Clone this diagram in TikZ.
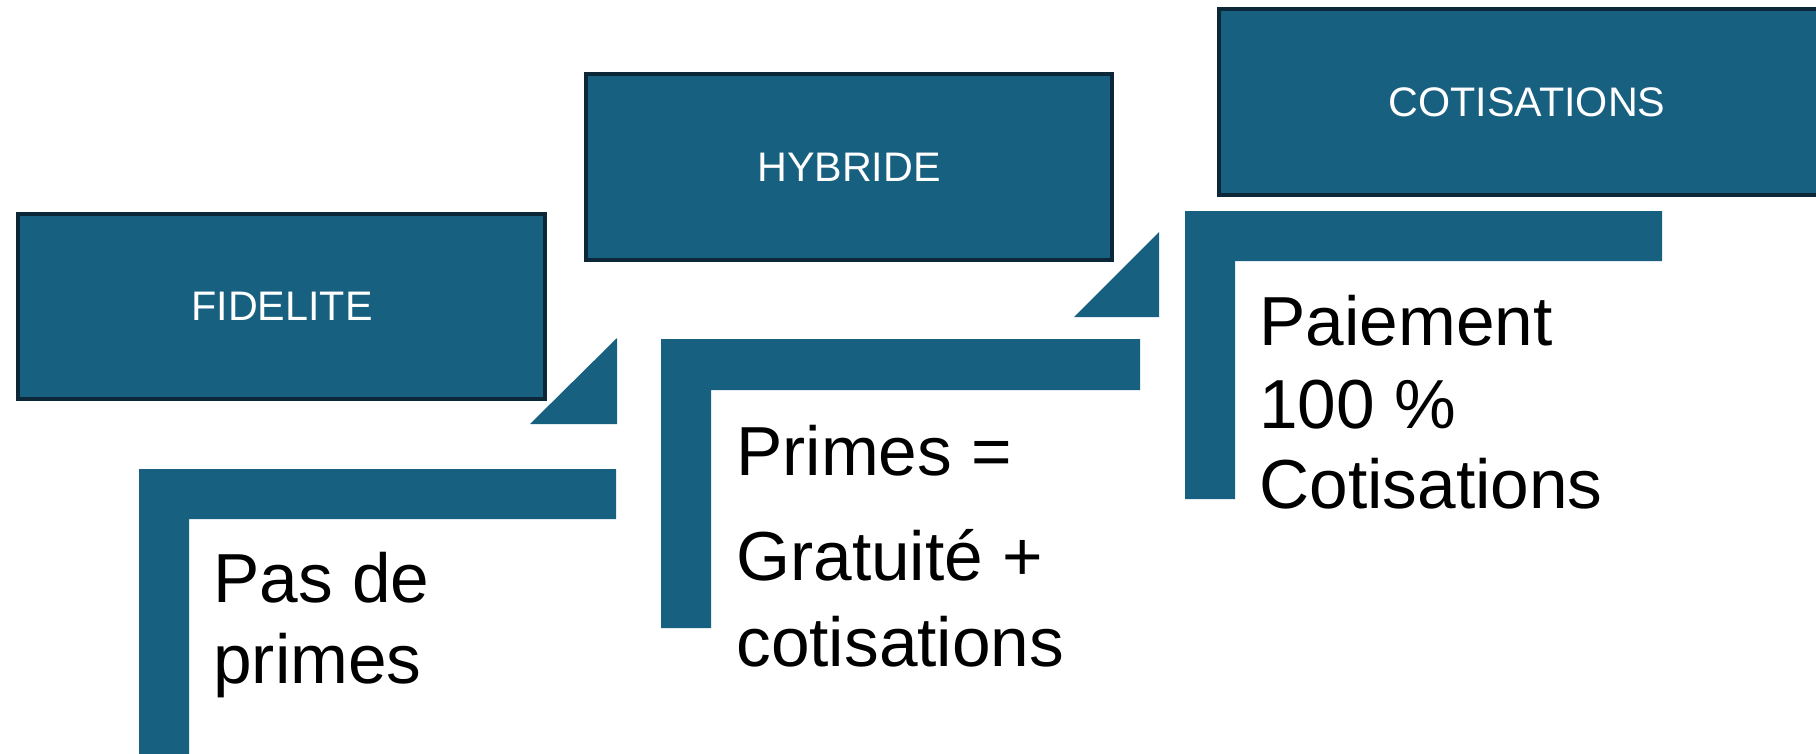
\documentclass[tikz,border=0pt]{standalone}
\usepackage{fontspec}
\setmainfont{Liberation Sans}
\definecolor{tealblue}{RGB}{24,96,128}
\definecolor{navyedge}{RGB}{12,40,56}
\begin{document}
\begin{tikzpicture}[x=0.02cm,y=-0.02cm,
  stagebox/.style={draw=navyedge, line width=2pt, fill=tealblue},
  stagelabel/.style={text=white, inner sep=0pt, font=\fontsize{23.5}{28}\selectfont},
  bracket/.style={fill=tealblue},
  pointer/.style={fill=tealblue},
  bodytext/.style={anchor=base west, inner sep=0pt, font=\fontsize{39.5}{46}\selectfont}]
\useasboundingbox (0,0) rectangle (1816,754);
\begin{scope}
\clip (0,0) rectangle (1816,754);

% stage headers
\path[stagebox] (18,214) rectangle (545,399);
\node[stagelabel] (fidelite) at (282,306) {FIDELITE};

\path[stagebox] (586,74) rectangle (1112,260);
\node[stagelabel] (hybride) at (849,167) {HYBRIDE};

\path[stagebox] (1219,9) rectangle (1845,195);
\node[stagelabel] (cotis) at (1527,102) {COTISATIONS};

% small pointers between the steps
\path[pointer] (530,424) -- (617,424) -- (617,338) -- cycle;
\path[pointer] (1074,317) -- (1159,317) -- (1159,232) -- cycle;

% corner brackets
\path[bracket] (139,770) -- (139,469) -- (616,469) -- (616,519) -- (189,519) -- (189,770) -- cycle;
\path[bracket] (661,628) -- (661,339) -- (1140,339) -- (1140,390) -- (711,390) -- (711,628) -- cycle;
\path[bracket] (1185,499) -- (1185,211) -- (1662,211) -- (1662,261) -- (1235,261) -- (1235,499) -- cycle;

% descriptions
\node[bodytext] (f1) at (213,602) {Pas de};
\node[bodytext] (f2) at (213,683) {primes};

\node[bodytext] (h1) at (736,475) {Primes =};
\node[bodytext] (h2) at (736,580) {Gratuité +};
\node[bodytext] (h3) at (736,666) {cotisations};

\node[bodytext] (c1) at (1259,345) {Paiement};
\node[bodytext] (c2) at (1259,428) {100 \%};
\node[bodytext] (c3) at (1259,508) {Cotisations};
\end{scope}
\end{tikzpicture}
\end{document}
